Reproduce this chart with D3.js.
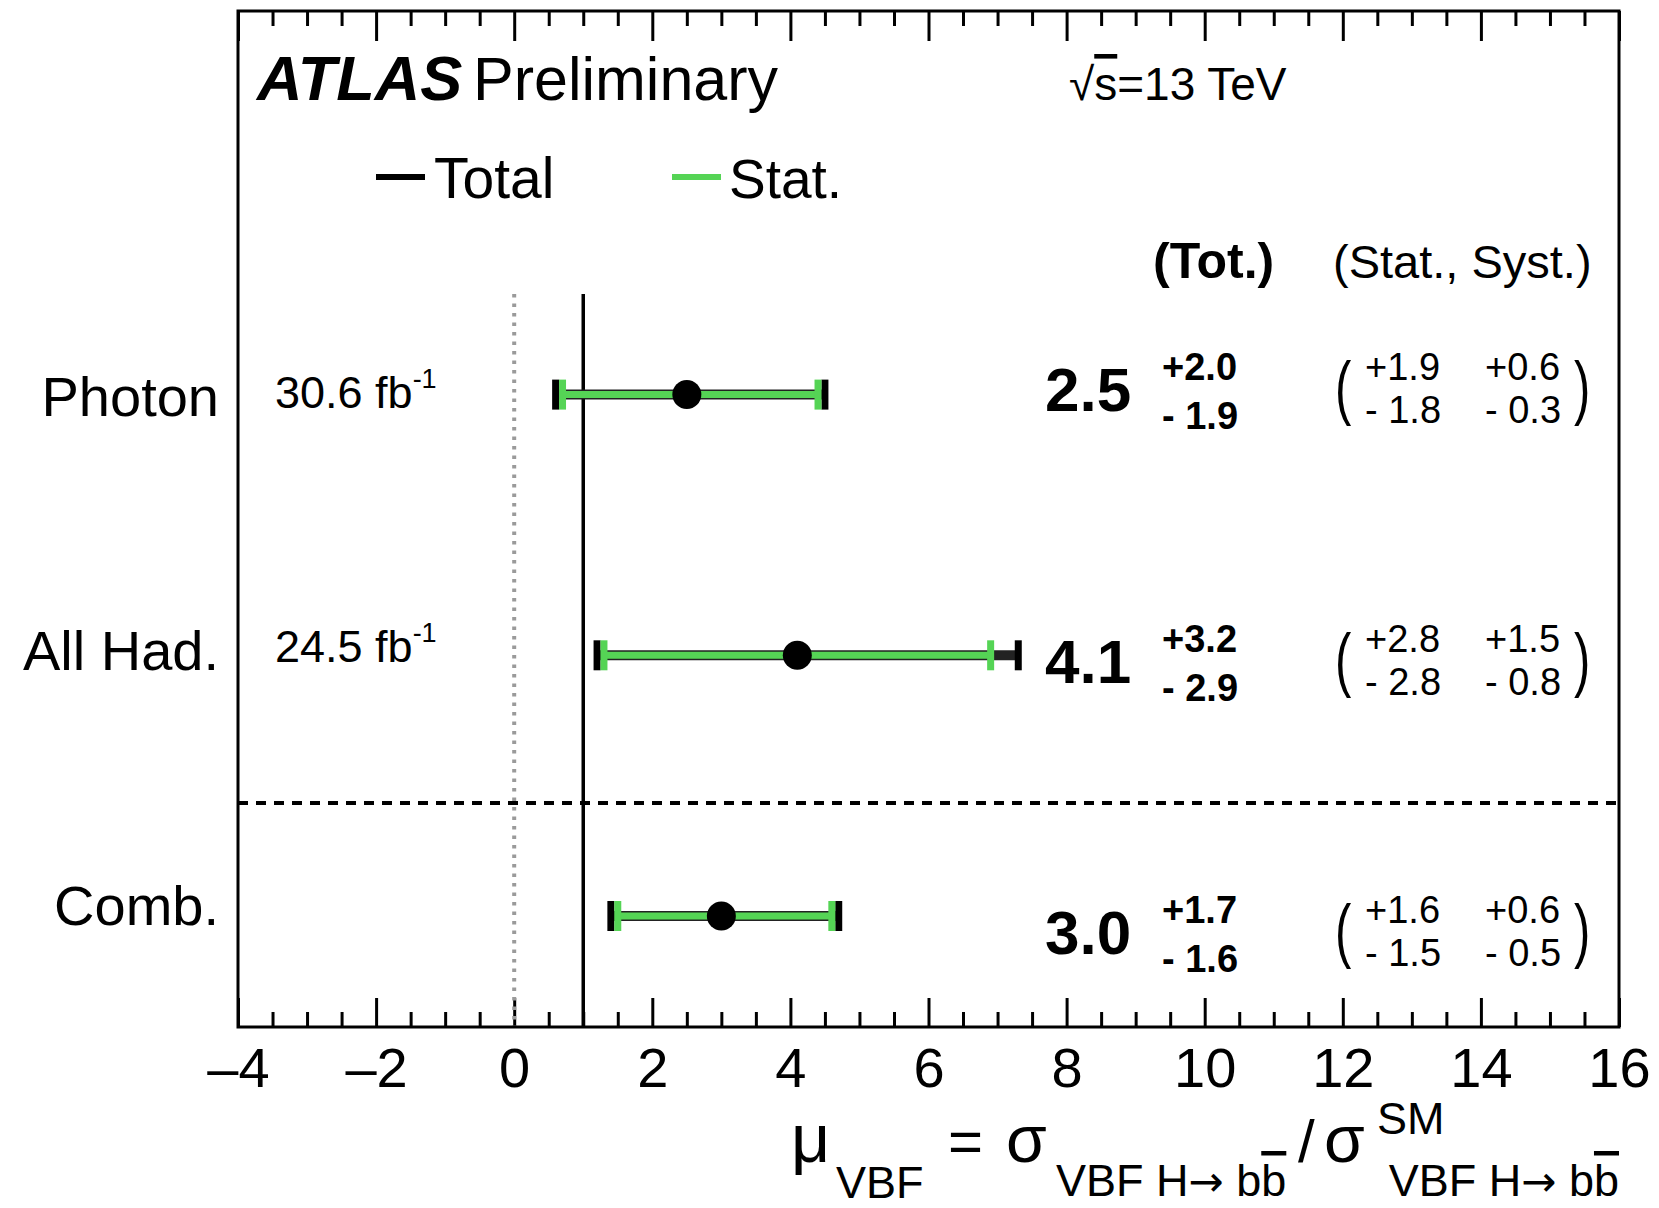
<!DOCTYPE html>
<html><head><meta charset="utf-8">
<script src="https://cdn.jsdelivr.net/npm/d3@7"></script>
<style>
body{margin:0;background:#fff}
svg text{font-family:"Liberation Sans",Arial,Helvetica,sans-serif;fill:#000}
</style>
</head><body>
<svg id="c" width="1659" height="1208"></svg>
<script>
// ---------------- data ----------------
const categories = ["Photon", "All Had.", "Comb."];
const lumiValues = ["30.6", "24.5", null];
const muValues = [2.5, 4.1, 3.0];
const totUp = [2.0, 3.2, 1.7];
const totDn = [1.9, 2.9, 1.6];
const statUp = [1.9, 2.8, 1.6];
const statDn = [1.8, 2.8, 1.5];
const systUp = [0.6, 1.5, 0.6];
const systDn = [0.3, 0.8, 0.5];
const xTicks = [-4, -2, 0, 2, 4, 6, 8, 10, 12, 14, 16];
const xDomain = [-4, 16];
const smValue = 1;
const zeroValue = 0;
const legendLabels = ["Total", "Stat."];

// ---------------- layout ----------------
const fL = 238, fR = 1619, fT = 11, fB = 1027;
const GREEN = "#55d455";
const svg = d3.select("#c");
const x = d3.scaleLinear().domain(xDomain).range([fL, fR]);
const yPt = d3.scaleLinear().domain([0, 2]).range([394.6, 916]);
const yLab = d3.scaleLinear().domain([0, 2]).range([395.7, 904.6]);
const yVal = d3.scaleLinear().domain([0, 2]).range([389, 932]);
const f1 = d3.format(".1f");

function txt(g, px, py, s, size, o = {}) {
  return g.append("text").attr("x", px).attr("y", py)
    .attr("font-size", size)
    .attr("text-anchor", o.anchor || "start")
    .attr("font-weight", o.bold ? "bold" : "normal")
    .attr("font-style", o.italic ? "italic" : "normal")
    .text(s);
}

// ---------------- axes (ticks) ----------------
const minor = d3.range(-4, 16.001, 0.5).filter(v => !xTicks.includes(v));
function styleAxis(g) {
  g.select(".domain").remove();
  g.selectAll(".tick line").attr("stroke", "#000").attr("stroke-width", 3);
}
const gxMin = svg.append("g").attr("transform", `translate(0,${fB})`)
  .call(d3.axisBottom(x).tickValues(minor).tickSize(-15).tickFormat(""));
styleAxis(gxMin);
const gx = svg.append("g").attr("transform", `translate(0,${fB})`)
  .call(d3.axisBottom(x).tickValues(xTicks).tickSize(-29).tickPadding(20)
    .tickFormat(d => d < 0 ? "\u2013" + (-d) : String(d)));
styleAxis(gx);
gx.selectAll(".tick text").attr("font-size", 56)
  .style("font-family", '"Liberation Sans",Arial,sans-serif').attr("fill", "#000");
const gtMin = svg.append("g").attr("transform", `translate(0,${fT})`)
  .call(d3.axisTop(x).tickValues(minor).tickSize(-15).tickFormat(""));
styleAxis(gtMin);
const gtop = svg.append("g").attr("transform", `translate(0,${fT})`)
  .call(d3.axisTop(x).tickValues(xTicks).tickSize(-30).tickFormat(""));
styleAxis(gtop);

// ---------------- reference lines ----------------
svg.append("line").attr("x1", x(zeroValue)).attr("x2", x(zeroValue))
  .attr("y1", 294).attr("y2", fB)
  .attr("stroke", "#9a9a9a").attr("stroke-width", 4).attr("stroke-dasharray", "3.5,6");
svg.append("line").attr("x1", x(smValue)).attr("x2", x(smValue))
  .attr("y1", 294).attr("y2", fB)
  .attr("stroke", "#000").attr("stroke-width", 3.5);
svg.append("line").attr("x1", fL).attr("x2", fR)
  .attr("y1", 803).attr("y2", 803)
  .attr("stroke", "#000").attr("stroke-width", 4).attr("stroke-dasharray", "10,8");

// frame
svg.append("rect").attr("x", fL).attr("y", fT)
  .attr("width", fR - fL).attr("height", fB - fT)
  .attr("fill", "none").attr("stroke", "#000").attr("stroke-width", 3);

// ---------------- error bars ----------------
const rows = categories.map((c, i) => ({
  i, c, mu: muValues[i],
  tl: muValues[i] - totDn[i], th: muValues[i] + totUp[i],
  sl: muValues[i] - statDn[i], sh: muValues[i] + statUp[i]
}));
const gb = svg.append("g");
const capH = 15;
gb.selectAll(".tot").data(rows).join("line").attr("class", "tot")
  .attr("x1", d => x(d.tl)).attr("x2", d => x(d.th))
  .attr("y1", d => yPt(d.i)).attr("y2", d => yPt(d.i))
  .attr("stroke", "#222").attr("stroke-width", 10);
gb.selectAll(".totcap").data(rows.flatMap(d => [[d.tl, d.i], [d.th, d.i]])).join("line").attr("class", "totcap")
  .attr("x1", d => x(d[0])).attr("x2", d => x(d[0]))
  .attr("y1", d => yPt(d[1]) - capH).attr("y2", d => yPt(d[1]) + capH)
  .attr("stroke", "#000").attr("stroke-width", 7);
gb.selectAll(".stat").data(rows).join("line").attr("class", "stat")
  .attr("x1", d => x(d.sl)).attr("x2", d => x(d.sh))
  .attr("y1", d => yPt(d.i)).attr("y2", d => yPt(d.i))
  .attr("stroke", GREEN).attr("stroke-width", 7);
gb.selectAll(".statcap").data(rows.flatMap(d => [[d.sl, d.i], [d.sh, d.i]])).join("line").attr("class", "statcap")
  .attr("x1", d => x(d[0])).attr("x2", d => x(d[0]))
  .attr("y1", d => yPt(d[1]) - capH).attr("y2", d => yPt(d[1]) + capH)
  .attr("stroke", GREEN).attr("stroke-width", 7);
gb.selectAll("circle").data(rows).join("circle")
  .attr("cx", d => x(d.mu)).attr("cy", d => yPt(d.i)).attr("r", 14.5)
  .attr("fill", "#000");

// ---------------- texts ----------------
const gt2 = svg.append("g");
txt(gt2, 257, 100, "ATLAS", 63, {bold: true, italic: true});
txt(gt2, 473, 100, "Preliminary", 61);
const rs = gt2.append("text").attr("x", 1069).attr("y", 100).attr("font-size", 46);
rs.append("tspan").text("\u221A");
rs.append("tspan").attr("text-decoration", "overline").text("s");
rs.append("tspan").text("=13 TeV");

// legend
svg.append("line").attr("x1", 376).attr("x2", 425).attr("y1", 177).attr("y2", 177)
  .attr("stroke", "#000").attr("stroke-width", 6);
txt(gt2, 434, 198, legendLabels[0], 57);
svg.append("line").attr("x1", 672).attr("x2", 721).attr("y1", 177).attr("y2", 177)
  .attr("stroke", GREEN).attr("stroke-width", 6);
txt(gt2, 729, 198, legendLabels[1], 55);

// headers
txt(gt2, 1153, 278, "(Tot.)", 50, {bold: true});
txt(gt2, 1333, 278, "(Stat., Syst.)", 47);

// row labels and values
rows.forEach(d => {
  txt(gt2, 219, yLab(d.i) + 20, d.c, 56, {anchor: "end"});
  if (lumiValues[d.i]) {
    const t = gt2.append("text").attr("x", 275).attr("y", yLab(d.i) + 12).attr("font-size", 45);
    t.append("tspan").text(lumiValues[d.i] + " fb");
    t.append("tspan").attr("dy", -20).attr("font-size", 27).text("-1");
  }
  const c = yVal(d.i);
  txt(gt2, 1045, c + 22, f1(d.mu), 62, {bold: true});
  txt(gt2, 1162, c - 9, "+" + f1(totUp[d.i]), 38, {bold: true});
  txt(gt2, 1162, c + 40, "- " + f1(totDn[d.i]), 38, {bold: true});
  txt(gt2, 1365, c - 9, "+" + f1(statUp[d.i]), 38);
  txt(gt2, 1365, c + 34, "- " + f1(statDn[d.i]), 38);
  txt(gt2, 1485, c - 9, "+" + f1(systUp[d.i]), 38);
  txt(gt2, 1485, c + 34, "- " + f1(systDn[d.i]), 38);
  gt2.append("text").attr("transform", `translate(1335,${c + 22}) scale(0.7,1)`)
    .attr("font-size", 70).text("(");
  gt2.append("text").attr("transform", `translate(1574,${c + 22}) scale(0.7,1)`)
    .attr("font-size", 70).text(")");
});

// x-axis title
const tt = svg.append("g");
const ARW = '"DejaVu Sans",sans-serif';
txt(tt, 791, 1162, "\u03BC", 68);
txt(tt, 836, 1198, "VBF", 45);
txt(tt, 948, 1162, "=", 60);
txt(tt, 1006, 1162, "\u03C3", 66);
function subText(px, anchor) {
  const s = tt.append("text").attr("x", px).attr("y", 1196).attr("font-size", 45).attr("text-anchor", anchor);
  s.append("tspan").text("VBF H");
  s.append("tspan").style("font-family", ARW).attr("font-size", 42).text("\u2192");
  s.append("tspan").text(" b");
  s.append("tspan").attr("text-decoration", "overline").text("b");
  return s;
}
subText(1056, "start");
txt(tt, 1298, 1162, "/", 60);
txt(tt, 1324, 1162, "\u03C3", 66);
txt(tt, 1377, 1134, "SM", 45);
subText(1619, "end");
</script>
</body></html>
